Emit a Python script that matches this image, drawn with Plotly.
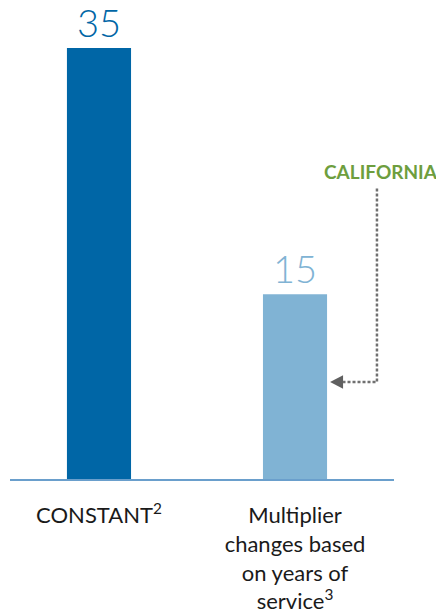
import plotly.graph_objects as go

categories = ["CONSTANT<sup>2</sup>", "Multiplier<br>changes based<br>on years of<br>service<sup>3</sup>"]
values = [35, 15]
value_labels = ["35", "15"]
bar_colors = ["#0066a6", "#80b3d4"]
callout_text = "CALIFORNIA"

fig = go.Figure()
fig.add_trace(go.Bar(
    x=[0, 1], y=values, marker=dict(color=bar_colors, line=dict(width=0)),
    width=0.327, text=value_labels, textposition="outside",
    textfont=dict(family="Lato", size=38, color=bar_colors, weight=300),
    cliponaxis=False, hoverinfo="skip",
))

# callout: dotted connector from label to second bar, with arrowhead
xv, ytop, ytip, xtip = 1.418, 23.6, 7.88, 1.179
fig.add_shape(type="path", xref="x", yref="y",
              path=f"M {xv} {ytop} L {xv} {ytip} L {xtip+0.066} {ytip}",
              line=dict(color="#707070", width=2.5, dash="3px,2px"))
fig.add_shape(type="path", xref="x", yref="y",
              path=f"M {xtip} {ytip} L {xtip+0.066} {ytip+0.55} L {xtip+0.066} {ytip-0.55} Z",
              fillcolor="#606060", line=dict(width=0))
fig.add_annotation(x=1.441, y=25.0, xref="x", yref="y", text=f"<b>{callout_text}</b>",
                   showarrow=False, yanchor="middle", xanchor="center",
                   font=dict(family="Lato", size=19, color="#6e9e3e"))

fig.update_layout(
    width=436, height=608, margin=dict(l=2, r=50, t=2, b=137),
    plot_bgcolor="white", paper_bgcolor="white", showlegend=False,
    xaxis=dict(range=[-0.454, 1.505], tickvals=[0, 1], ticktext=categories,
               showgrid=False, zeroline=False, showline=True, linecolor="#6a9fcc", linewidth=2,
               ticks="", tickfont=dict(family="Lato", size=22, color="#1a1a1a"), ticklabelstandoff=16),
    yaxis=dict(range=[0, 38.09], visible=False),
)
fig.write_html("out.html")
